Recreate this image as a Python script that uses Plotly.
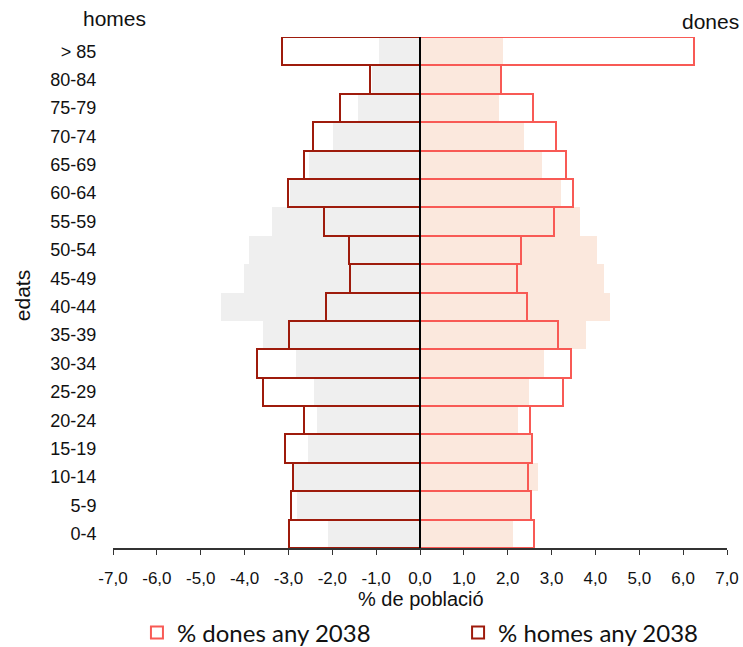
import plotly.graph_objects as go

ages = ["0-4", "5-9", "10-14", "15-19", "20-24", "25-29", "30-34", "35-39", "40-44",
        "45-49", "50-54", "55-59", "60-64", "65-69", "70-74", "75-79", "80-84", "> 85"]

# current population (% ; men shown negative)
homes_actual = [-2.10, -2.80, -2.88, -2.55, -2.34, -2.42, -2.83, -3.57, -4.53,
                -4.02, -3.90, -3.38, -2.96, -2.52, -1.98, -1.41, -1.10, -0.94]
dones_actual = [2.13, 2.50, 2.68, 2.52, 2.23, 2.49, 2.83, 3.78, 4.33,
                4.20, 4.03, 3.65, 3.21, 2.78, 2.37, 1.81, 1.82, 1.89]

# projection 2038
homes_2038 = [-2.99, -2.94, -2.90, -3.08, -2.64, -3.58, -3.72, -2.99, -2.14,
              -1.60, -1.61, -2.19, -3.01, -2.65, -2.43, -1.82, -1.15, -3.15]
dones_2038 = [2.60, 2.52, 2.46, 2.55, 2.51, 3.26, 3.44, 3.15, 2.43,
              2.22, 2.30, 3.05, 3.48, 3.33, 3.09, 2.58, 1.85, 6.25]

tick_vals = [-7, -6, -5, -4, -3, -2, -1, 0, 1, 2, 3, 4, 5, 6, 7]
tick_text = ["-7,0", "-6,0", "-5,0", "-4,0", "-3,0", "-2,0", "-1,0", "0,0",
             "1,0", "2,0", "3,0", "4,0", "5,0", "6,0", "7,0"]

MALE_LINE = "#9E1B0C"
FEMALE_LINE = "#F85A55"
FONT = "Liberation Sans, Arial, sans-serif"
LEG_FONT = dict(family="Lato, Liberation Sans, sans-serif", size=24, color="#111111")

fig = go.Figure()
fig.add_trace(go.Bar(y=ages, x=homes_actual, orientation="h", name="% homes actual",
                     marker=dict(color="#EFEFEF", line=dict(width=0)), showlegend=False))
fig.add_trace(go.Bar(y=ages, x=dones_actual, orientation="h", name="% dones actual",
                     marker=dict(color="#FBE8DD", line=dict(width=0)), showlegend=False))
fig.add_trace(go.Bar(y=ages, x=dones_2038, orientation="h", name="% dones any 2038",
                     marker=dict(color="rgba(255,255,255,0)", line=dict(color=FEMALE_LINE, width=2)),
                     legend="legend"))
fig.add_trace(go.Bar(y=ages, x=homes_2038, orientation="h", name="% homes any 2038",
                     marker=dict(color="rgba(255,255,255,0)", line=dict(color=MALE_LINE, width=2)),
                     legend="legend2"))

fig.update_layout(
    width=743, height=647,
    margin=dict(l=113, r=16, t=37, b=99, autoexpand=False),
    paper_bgcolor="white", plot_bgcolor="white",
    barmode="overlay", bargap=0,
    font=dict(family=FONT, color="#111111", size=18),
    xaxis=dict(range=[-7, 7], tickvals=tick_vals, ticktext=tick_text,
               showgrid=False, zeroline=False,
               showline=True, linecolor="#333333", linewidth=1.5,
               ticks="outside", ticklen=5, tickcolor="#333333",
               tickfont=dict(size=17), ticklabelstandoff=9, layer="above traces"),
    yaxis=dict(showgrid=False, zeroline=False, showline=False,
               ticks="outside", ticklen=12, tickcolor="rgba(0,0,0,0)",
               tickfont=dict(size=18)),
    legend=dict(orientation="h", x=0.039, xanchor="left", y=-0.166, yanchor="middle",
                font=LEG_FONT, bgcolor="rgba(0,0,0,0)"),
    legend2=dict(orientation="h", x=0.562, xanchor="left", y=-0.166, yanchor="middle",
                 font=LEG_FONT, bgcolor="rgba(0,0,0,0)"),
    shapes=[dict(type="line", xref="x", yref="paper", x0=0, x1=0, y0=0, y1=1,
                 line=dict(color="black", width=2), layer="above")],
    annotations=[
        dict(text="homes", xref="paper", yref="paper", x=0.002, y=1.037,
             xanchor="center", yanchor="middle", showarrow=False, font=dict(size=21)),
        dict(text="dones", xref="paper", yref="paper", x=1.0228, y=1.031,
             xanchor="right", yanchor="middle", showarrow=False, font=dict(size=21)),
        dict(text="edats", xref="paper", yref="paper", x=-0.148, y=0.493,
             xanchor="center", yanchor="middle", textangle=-90, showarrow=False,
             font=dict(size=21)),
        dict(text="% de població", xref="paper", yref="paper", x=0.501, y=-0.1,
             xanchor="center", yanchor="middle", showarrow=False, font=dict(size=20)),
    ],
)

fig.write_html("out.html", config={"displayModeBar": False},
               post_script="document.body.style.margin='0';document.body.style.overflow='hidden';")
